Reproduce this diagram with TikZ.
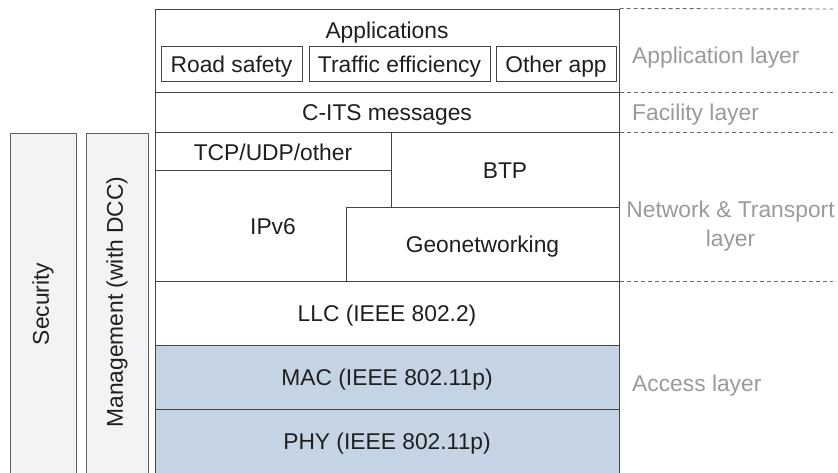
\documentclass[tikz,border=0pt]{standalone}
\usepackage{fontspec}
\setmainfont{Liberation Sans}
\definecolor{linec}{HTML}{454545}
\definecolor{sidefill}{HTML}{F2F3F5}
\definecolor{sideline}{HTML}{606060}
\definecolor{accfill}{HTML}{C5D4E5}
\definecolor{layertext}{HTML}{9A9A9A}
\definecolor{dashc}{HTML}{6A6A6A}
\begin{document}
\begin{tikzpicture}[x=1pt,y=-1pt,
  box/.style={draw=linec, line width=1pt, inner sep=0pt},
  sidebox/.style={draw=sideline, fill=sidefill, line width=1pt, inner sep=0pt},
  basefont/.style={font=\fontsize{22.8}{28.4}\selectfont},
  captext/.style={text height=17pt, text depth=0pt},
  txt/.style={basefont, captext, text=black!88, inner sep=0pt},
  sidetxt/.style={basefont, text=black!88, inner sep=0pt},
  layerlbl/.style={basefont, text=layertext, inner sep=0pt},
  dashline/.style={draw=dashc, line width=0.9pt, dash pattern=on 4pt off 3pt}
]
\useasboundingbox (0,0) rectangle (838,472);

% side columns
\node[sidebox, minimum width=66pt, minimum height=342pt] (sec) at (43,304) {};
\node[sidetxt, rotate=90] (sectext) at (sec.center) {Security};
\node[sidebox, minimum width=62pt, minimum height=342pt] (mgmt) at (117,304) {};
\node[sidetxt, rotate=90] (mgmttext) at (117,302) {Management (with DCC)};

% application layer
\node[box, minimum width=464pt, minimum height=83pt] (app) at (387,50.5) {};
\node[txt] (apptitle) at (387,30) {Applications};
\node[box, txt, minimum width=141pt, minimum height=35pt] (road) at (231.5,63.5) {Road safety};
\node[box, txt, minimum width=181pt, minimum height=35pt] (traffic) at (399.5,63.5) {Traffic efficiency};
\node[box, txt, minimum width=120pt, minimum height=35pt] (other) at (556,63.5) {Other app};

% facility layer
\node[box, txt, minimum width=464pt, minimum height=40pt] (cits) at (387,112) {C-ITS messages};

% network & transport layer
\node[box, minimum width=464pt, minimum height=149pt] (net) at (387,206.5) {};
\coordinate (tcpR) at (391,170);
\coordinate (btpL) at (391,207);
\coordinate (geoL) at (346,207);
\coordinate (geoB) at (346,281);
\draw[linec, line width=1pt] (net.north west |- tcpR) -- (tcpR);
\draw[linec, line width=1pt] (net.north -| tcpR) -- (btpL);
\draw[linec, line width=1pt] (geoL) -- (net.east |- geoL);
\draw[linec, line width=1pt] (geoL) -- (geoB);
\node[txt] (tcp) at (273,151.5) {TCP/UDP/other};
\node[txt] (btp) at (505,170) {BTP};
\node[txt] (ipv6) at (273,226) {IPv6};
\node[txt] (geo) at (482.5,244) {Geonetworking};

% access layer
\node[box, txt, minimum width=464pt, minimum height=64pt] (llc) at (387,313) {LLC (IEEE 802.2)};
\node[box, txt, fill=accfill, minimum width=464pt, minimum height=64pt] (mac) at (387,377) {MAC (IEEE 802.11p)};
\node[box, txt, fill=accfill, minimum width=464pt, minimum height=64pt] (phy) at (387,441) {PHY (IEEE 802.11p)};

% layer boundaries
\coordinate (d0) at (833,9);
\draw[dashline] (app.north east) -- (d0);
\draw[dashline] (app.south east) -- (app.south east -| d0);
\draw[dashline] (cits.south east) -- (cits.south east -| d0);
\draw[dashline] (net.south east) -- (net.south east -| d0);

% layer names
\node[layerlbl, captext, anchor=west] (lapp) at (632,55) {Application layer};
\node[layerlbl, captext, anchor=west] (lfac) at (632,112) {Facility layer};
\node[layerlbl, align=center] (lnet) at (730.5,226) {Network \& Transport\\layer};
\node[layerlbl, captext, anchor=west] (lacc) at (632,383) {Access layer};
\end{tikzpicture}
\end{document}
